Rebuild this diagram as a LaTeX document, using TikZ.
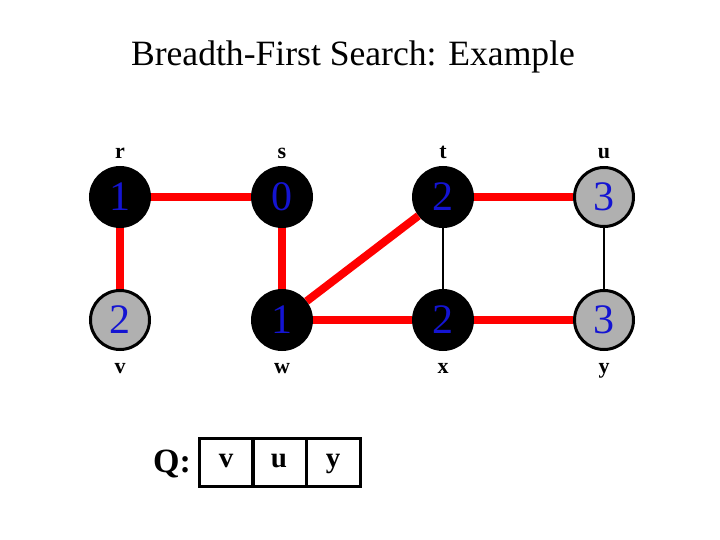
\documentclass[tikz,border=0pt]{standalone}
\usepackage{fontspec}
\setmainfont{Liberation Serif}
\usepackage{tikz}

\definecolor{numblue}{RGB}{20,20,210}
\definecolor{vgray}{RGB}{176,176,176}

\tikzset{
	vtx/.style={circle,draw=black,line width=3pt,minimum size=59pt,inner sep=0pt,
		font=\fontsize{42}{42}\selectfont,text=numblue},
	blackv/.style={vtx,fill=black},
	grayv/.style={vtx,fill=vgray},
	lbl/.style={font=\bfseries\fontsize{22}{22}\selectfont,label distance=4pt,text height=15pt,text depth=0pt},
	tree/.style={red,line width=8pt},
	plain/.style={black,line width=2.5pt},
	cell/.style={draw,line width=3pt,minimum width=54pt,minimum height=48pt,inner sep=0pt,
		text height=15pt,text depth=5pt,font=\bfseries\fontsize{29}{29}\selectfont}
}

\begin{document}
\begin{tikzpicture}[x=1pt,y=-1pt]
		\useasboundingbox (0,0) rectangle (720,540);
		\node (title) at (353,57) {\fontsize{35.6}{36}\selectfont Breadth-First Search: Example};

		\node[blackv,label={[lbl]above:r}] (r) at (120,197) {1};
		\node[blackv,label={[lbl]above:s}] (s) at (282,197) {0};
		\node[blackv,label={[lbl]above:t}] (t) at (443,197) {2};
		\node[grayv,label={[lbl]above:u}] (u) at (604,197) {3};
		\node[grayv,label={[lbl]below:v}] (v) at (120,320) {2};
		\node[blackv,label={[lbl]below:w}] (w) at (282,320) {1};
		\node[blackv,label={[lbl]below:x}] (x) at (443,320) {2};
		\node[grayv,label={[lbl]below:y}] (y) at (604,320) {3};

		\draw [tree] (r) -- (s);
		\draw [tree] (r) -- (v);
		\draw [tree] (s) -- (w);
		\draw [tree] (w) -- (t);
		\draw [tree] (w) -- (x);
		\draw [tree] (t) -- (u);
		\draw [tree] (x) -- (y);
		\draw [plain] (t) -- (x);
		\draw [plain] (u) -- (y);

		\node[font=\bfseries\fontsize{34}{34}\selectfont] (qlabel) at (172,464) {Q:};
		\node[cell] (q1) at (226,462) {v};
		\node[cell] (q2) at (279,462) {u};
		\node[cell] (q3) at (333,462) {y};
\end{tikzpicture}
\end{document}
